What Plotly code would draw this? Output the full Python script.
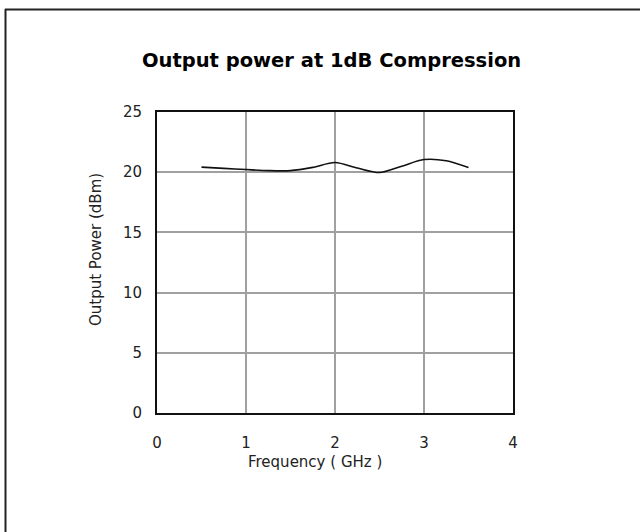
import plotly.graph_objects as go

freq_ghz = [0.5, 0.75, 1.0, 1.25, 1.5, 1.75, 2.0, 2.25, 2.5, 2.75, 3.0, 3.25, 3.5]
power_dbm = [20.42, 20.32, 20.22, 20.13, 20.13, 20.4, 20.8, 20.35, 19.97, 20.5, 21.05, 20.95, 20.38]
x_ticks = [0, 1, 2, 3, 4]
y_ticks = [0, 5, 10, 15, 20, 25]

W, H = 640, 532
L, R, T, B = 157, 513, 112, 413

def px(x):
    return (x - L) / (R - L)

def py(y):
    return (B - y) / (B - T)

fig = go.Figure()
fig.add_trace(go.Scatter(x=freq_ghz, y=power_dbm, mode="lines",
                         line=dict(color="#111111", width=1.6, shape="spline", smoothing=0.8),
                         showlegend=False, hoverinfo="skip"))

tickfont = dict(family="DejaVu Sans", size=15, color="#222222")
fig.update_xaxes(range=[0, 4], tickvals=x_ticks, ticktext=[str(v) for v in x_ticks],
                 showgrid=True, gridcolor="#a0a0a0", gridwidth=1.5,
                 showline=True, linecolor="#111111", linewidth=2, mirror=True,
                 ticks="outside", ticklen=15, tickcolor="rgba(0,0,0,0)", tickfont=tickfont, zeroline=False)
fig.update_yaxes(range=[0, 25], tickvals=y_ticks, ticktext=[str(v) for v in y_ticks],
                 showgrid=True, gridcolor="#a0a0a0", gridwidth=1.5,
                 showline=True, linecolor="#111111", linewidth=2, mirror=True,
                 ticks="outside", ticklen=10, tickcolor="rgba(0,0,0,0)", tickfont=tickfont, zeroline=False)

fig.add_annotation(text="<b>Output power at 1dB Compression</b>", xref="paper", yref="paper",
                   x=px(331), y=py(61), showarrow=False, xanchor="center", yanchor="middle",
                   font=dict(family="DejaVu Sans", size=19.5, color="#000000"))
fig.add_annotation(text="Frequency ( GHz )", xref="paper", yref="paper",
                   x=px(315), y=py(462), showarrow=False, xanchor="center", yanchor="middle",
                   font=dict(family="DejaVu Sans", size=15, color="#222222"))
fig.add_annotation(text="Output Power (dBm)", xref="paper", yref="paper",
                   x=px(96), y=py(250), showarrow=False, xanchor="center", yanchor="middle",
                   textangle=-90, font=dict(family="DejaVu Sans", size=15, color="#222222"))

fig.add_shape(type="line", xref="paper", yref="paper", x0=px(5), x1=px(640), y0=py(9.5), y1=py(9.5),
              line=dict(color="#222222", width=2))
fig.add_shape(type="line", xref="paper", yref="paper", x0=px(5.5), x1=px(5.5), y0=py(9), y1=py(532),
              line=dict(color="#222222", width=2))

fig.update_layout(width=W, height=H, margin=dict(l=L, r=W - R, t=T, b=H - B),
                  paper_bgcolor="white", plot_bgcolor="white")
fig.write_html("out.html", config={"displayModeBar": False},
               post_script="document.body.style.margin='0px';document.body.style.overflow='hidden';")
